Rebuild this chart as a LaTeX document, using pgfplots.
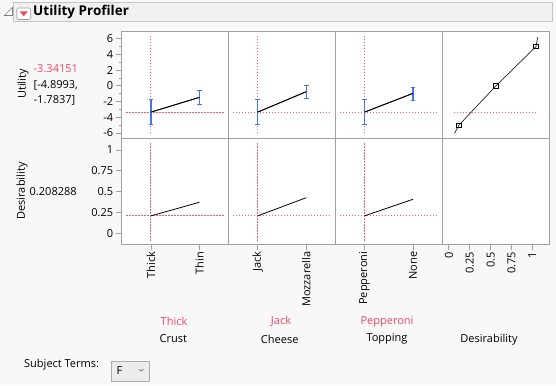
\documentclass[border=0pt]{standalone}
\usepackage{fontspec}
\setmainfont{Open Sans}
\usepackage{pgfplots}
\pgfplotsset{compat=1.18}
\definecolor{bg}{RGB}{248,248,248}
\definecolor{hdrfill}{RGB}{241,241,241}
\definecolor{hdrborder}{RGB}{196,196,196}
\definecolor{framegray}{RGB}{160,160,160}
\definecolor{boxgray}{RGB}{173,173,173}
\definecolor{boxfill}{RGB}{236,236,236}
\definecolor{jred}{RGB}{240,70,100}
\definecolor{jdot}{RGB}{248,90,115}
\definecolor{jblue}{RGB}{65,115,235}
\pgfplotsset{
  panel/.style={scale only axis, width=106.8pt, height=106.6pt, anchor=north west,
    axis line style={draw=framegray, line width=0.8pt},
    axis background/.style={fill=white},
    tick style={draw=framegray, line width=0.8pt},
    tick align=outside, major tick length=5.5pt, minor tick length=3pt,
    xtick pos=bottom, ytick pos=left,
    ticklabel style={font=\fontsize{11}{13}\selectfont, text=black},
    yticklabel style={inner sep=1.5pt, xshift=-1.5pt},
    xticklabel style={rotate=90, anchor=east, inner sep=1.2pt},
    /pgf/number format/assume math mode=true,
    clip=false},
  util/.style={ymin=-6.67, ymax=6.89},
  desi/.style={ymin=-0.14, ymax=1.14},
  cat/.style={xmin=-0.6, xmax=1.6},
  dcol/.style={xmin=-0.08, xmax=1.2},
  refl/.style={jdot, line width=1.1pt, dash pattern=on 1.4pt off 1.6pt},
  trace/.style={black, line width=0.8pt, mark=none},
  ebar/.style={black, line width=0.8pt, mark=none,
    error bars/.cd, y dir=both, y explicit,
    error bar style={line width=1.3pt, draw=jblue},
    error mark options={rotate=90, mark size=2.4pt, line width=1pt, draw=jblue}},
}
\begin{document}
\begin{tikzpicture}
\fill[bg] (0pt,0pt) rectangle (556pt,385pt);
\useasboundingbox (0pt,0pt) rectangle (556pt,385pt);
% header
\draw[hdrborder, fill=hdrfill, line width=0.8pt] (13.5pt,363.5pt) rectangle (552.5pt,383pt);
\draw[framegray, fill=white, line width=0.6pt, rounded corners=1.5pt] (16.7pt,365.5pt) rectangle (30.7pt,377pt);
\fill[jred] (19.6pt,373.6pt) -- (27.8pt,373.6pt) -- (23.7pt,368.8pt) -- cycle;
\node[anchor=west, font=\bfseries\fontsize{13.5}{16}\selectfont, inner sep=0pt] at (33pt,372.6pt) {Utility Profiler};
\draw[gray, fill=white, line width=0.6pt] (4.3pt,369.5pt) -- (12.5pt,369.5pt) -- (12.5pt,377.7pt) -- cycle;

% left labels
\node[rotate=90, font=\fontsize{11}{13}\selectfont] at (23pt,301pt) {Utility};
\node[rotate=90, font=\fontsize{11}{13}\selectfont] at (22pt,194pt) {Desirability};
\node[anchor=west, inner sep=0pt, text=jred, font=\fontsize{11}{13}\selectfont] at (33.5pt,316pt) {-3.34151};
\node[anchor=west, inner sep=0pt, font=\fontsize{11}{13}\selectfont] at (33.5pt,300pt) {[-4.8993,};
\node[anchor=west, inner sep=0pt, font=\fontsize{11}{13}\selectfont] at (33.5pt,284.7pt) {-1.7837]};
\node[anchor=west, inner sep=0pt, font=\fontsize{11}{13}\selectfont] at (29.5pt,193.3pt) {0.208288};

% ---------- Row 1: Utility ----------
\begin{axis}[panel, util, cat, at={(121.8pt,353.3pt)},
  ytick={-6,-4,-2,0,2,4,6}, minor ytick={-5,-3,-1,1,3,5}, xtick=\empty]
\addplot[refl] coordinates {(-0.51,-3.3415) (1.51,-3.3415)};
\addplot[refl] coordinates {(0,-6.05) (0,6.35)};
\addplot[ebar] coordinates {(0,-3.3415) +- (0,1.5578) (1,-1.46) +- (0,0.89)};
\addplot[trace] coordinates {(0,-3.3415) (1,-1.46)};
\end{axis}
\begin{axis}[panel, util, cat, at={(228.6pt,353.3pt)}, ytick=\empty, xtick=\empty]
\addplot[refl] coordinates {(-0.51,-3.3415) (1.51,-3.3415)};
\addplot[refl] coordinates {(0,-6.05) (0,6.35)};
\addplot[ebar] coordinates {(0,-3.3415) +- (0,1.5578) (1,-0.74) += (0,0.81) -= (0,0.84)};
\addplot[trace] coordinates {(0,-3.3415) (1,-0.74)};
\end{axis}
\begin{axis}[panel, util, cat, at={(335.4pt,353.3pt)}, ytick=\empty, xtick=\empty]
\addplot[refl] coordinates {(-0.51,-3.3415) (1.51,-3.3415)};
\addplot[refl] coordinates {(0,-6.05) (0,6.35)};
\addplot[ebar] coordinates {(0,-3.3415) +- (0,1.5578) (1,-0.95) += (0,0.77) -= (0,0.85)};
\addplot[trace] coordinates {(0,-3.3415) (1,-0.95)};
\end{axis}
\begin{axis}[panel, util, dcol, at={(442.2pt,353.3pt)}, ytick=\empty, xtick=\empty]
\addplot[refl] coordinates {(0.056,-3.3415) (1.053,-3.3415)};
\addplot[black!85, line width=0.7pt] coordinates {(0.068,-6.05) (0.12,-5) (0.564,0) (1.044,5) (1.065,6.2)};
\addplot[black, only marks, mark=square, mark size=2.2pt, mark options={line width=0.8pt, fill=white}] coordinates {(0.12,-5) (0.564,0) (1.044,5)};
\end{axis}

% ---------- Row 2: Desirability ----------
\begin{axis}[panel, desi, cat, at={(121.8pt,246.7pt)},
  ytick={0,0.25,0.5,0.75,1}, xtick={0,1}, xticklabels={Thick,Thin}]
\addplot[refl] coordinates {(-0.51,0.2083) (1.51,0.2083)};
\addplot[refl] coordinates {(0,-0.09) (0,1.09)};
\addplot[trace] coordinates {(0,0.2083) (1,0.372)};
\end{axis}
\begin{axis}[panel, desi, cat, at={(228.6pt,246.7pt)},
  ytick=\empty, xtick={0,1}, xticklabels={Jack,Mozzarella}]
\addplot[refl] coordinates {(-0.51,0.2083) (1.51,0.2083)};
\addplot[refl] coordinates {(0,-0.09) (0,1.09)};
\addplot[trace] coordinates {(0,0.2083) (1,0.427)};
\end{axis}
\begin{axis}[panel, desi, cat, at={(335.4pt,246.7pt)},
  ytick=\empty, xtick={0,1}, xticklabels={Pepperoni,None}]
\addplot[refl] coordinates {(-0.51,0.2083) (1.51,0.2083)};
\addplot[refl] coordinates {(0,-0.09) (0,1.09)};
\addplot[trace] coordinates {(0,0.2083) (1,0.408)};
\end{axis}
\begin{axis}[panel, desi, dcol, at={(442.2pt,246.7pt)},
  ytick=\empty, xtick={0,0.25,0.5,0.75,1}]
\addplot[draw=none] coordinates {(0,0) (1,1)};
\end{axis}

% bottom labels
\node[text=jred, font=\fontsize{11}{13}\selectfont] at (174pt,63.3pt) {Thick};
\node[text=jred, font=\fontsize{11}{13}\selectfont] at (281pt,63.3pt) {Jack};
\node[text=jred, font=\fontsize{11}{13}\selectfont] at (387pt,63.3pt) {Pepperoni};
\node[font=\fontsize{11}{13}\selectfont] at (173.3pt,46pt) {Crust};
\node[font=\fontsize{11}{13}\selectfont] at (279.7pt,46pt) {Cheese};
\node[font=\fontsize{11}{13}\selectfont] at (387pt,46pt) {Topping};
\node[font=\fontsize{11}{13}\selectfont] at (489pt,45pt) {Desirability};

% subject terms
\node[anchor=west, inner sep=0pt, font=\fontsize{11}{13}\selectfont] at (24pt,20.7pt) {Subject Terms:};
\draw[boxgray, fill=boxfill, line width=0.7pt] (111pt,4pt) rectangle (149.3pt,24pt);
\node[anchor=west, inner sep=0pt, font=\fontsize{11}{13}\selectfont] at (116.5pt,14pt) {F};
\draw[black!60, line width=0.6pt] (139pt,16pt) -- (141.2pt,13.8pt) -- (143.4pt,16pt);
\end{tikzpicture}
\end{document}
